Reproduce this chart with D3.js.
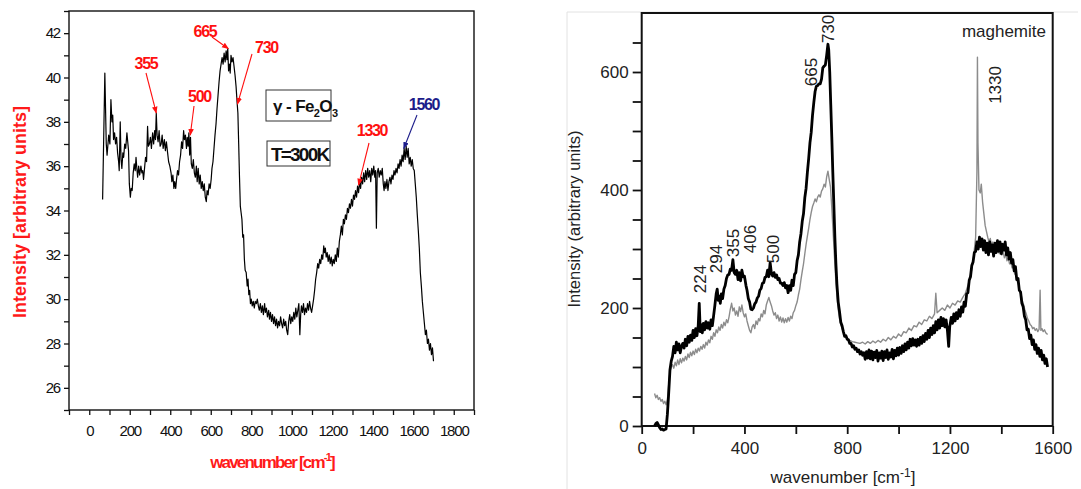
<!DOCTYPE html>
<html><head><meta charset="utf-8">
<script src="https://cdn.jsdelivr.net/npm/d3@7"></script>
<style>
body{margin:0;background:#fff;}
svg{display:block;font-family:"Liberation Sans",Arial,sans-serif;}
</style>
</head><body>
<svg id="c" width="1081" height="489"></svg>
<script>
// ---------- DATA ----------
// Left panel: gamma-Fe2O3, T=300K  [wavenumber, intensity]
const leftSpectrum = [[66,34.5],[77,40.2],[84,37.0],[88,36.5],[96,37.4],[102,37.0],[107,39.0],[112,38.0],[116,38.3],[120,37.2],[125,37.5],[130,37.0],[135,37.3],[140,36.6],[145,36.2],[148,35.8],[153,38.0],[157,36.3],[161,35.9],[166,36.6],[170,36.4],[175,37.0],[180,36.8],[186,37.5],[190,37.1],[194,36.7],[198,35.2],[203,34.6],[207,35.0],[212,34.9],[217,35.7],[222,36.1],[227,35.8],[231,36.4],[235,35.9],[239,35.5],[244,36.0],[249,35.6],[255,36.0],[260,35.7],[264,35.8],[268,35.4],[273,35.9],[278,36.4],[283,36.2],[288,37.8],[292,36.9],[297,37.0],[302,37.3],[307,36.8],[313,37.5],[318,37.0],[323,37.6],[327,37.2],[331,38.4],[335,37.4],[340,37.1],[345,37.6],[350,36.9],[355,37.0],[360,37.4],[365,36.8],[371,37.2],[376,36.7],[381,37.1],[387,36.6],[392,36.2],[398,36.0],[404,35.7],[408,35.3],[413,35.6],[418,35.0],[422,35.3],[427,35.0],[431,35.4],[436,35.8],[441,35.6],[446,36.2],[451,36.5],[456,37.1],[461,36.8],[466,37.6],[470,37.2],[475,37.4],[480,36.8],[484,37.3],[488,36.9],[492,37.5],[496,36.5],[500,37.3],[504,36.1],[509,35.9],[514,36.3],[519,35.7],[524,35.5],[529,36.0],[533,35.3],[538,35.9],[543,35.2],[548,35.6],[553,35.0],[558,35.3],[563,34.9],[568,35.2],[573,34.6],[578,34.4],[582,34.9],[587,34.7],[592,35.2],[597,35.0],[602,35.4],[606,35.9],[611,36.2],[616,36.8],[621,37.4],[626,37.9],[631,38.6],[636,39.2],[641,39.8],[646,40.3],[651,40.6],[656,40.9],[661,40.6],[666,41.1],[671,40.7],[676,41.2],[680,40.8],[684,41.3],[688,40.3],[692,40.6],[696,40.2],[700,41.0],[705,40.7],[710,40.9],[715,40.5],[720,40.1],[725,39.6],[730,38.9],[734,38.4],[738,37.0],[742,35.5],[746,34.2],[750,33.9],[754,33.6],[758,32.8],[762,32.9],[766,31.8],[770,31.3],[775,31.2],[780,30.6],[784,30.9],[788,30.2],[792,30.4],[796,29.8],[800,30.0],[805,29.7],[810,29.9],[815,29.6],[820,29.9],[825,29.8],[830,30.0],[835,29.7],[840,29.5],[845,29.8],[850,29.4],[855,29.7],[860,29.3],[866,29.8],[870,29.4],[875,29.6],[880,29.2],[886,29.5],[890,29.1],[895,29.4],[900,29.0],[905,29.3],[910,28.9],[915,29.2],[920,28.8],[925,29.1],[930,28.7],[935,29.0],[940,28.8],[945,29.2],[950,28.9],[955,28.7],[960,29.1],[965,28.8],[970,29.0],[975,28.6],[980,28.4],[985,29.0],[990,29.3],[995,28.9],[1000,29.2],[1005,29.0],[1010,29.4],[1015,29.1],[1020,29.6],[1025,29.2],[1030,29.5],[1035,29.8],[1040,28.4],[1044,29.3],[1048,29.7],[1053,29.4],[1058,29.8],[1063,29.3],[1068,29.6],[1073,29.4],[1078,29.8],[1083,29.5],[1088,29.9],[1093,29.6],[1098,29.4],[1103,29.7],[1108,30.0],[1113,30.4],[1118,30.9],[1123,31.2],[1128,31.6],[1133,31.4],[1138,31.8],[1143,31.6],[1148,32.0],[1153,31.8],[1158,32.4],[1162,32.1],[1166,32.3],[1170,31.9],[1175,32.1],[1180,31.7],[1185,32.0],[1190,31.6],[1195,31.9],[1200,31.5],[1205,31.8],[1210,31.6],[1215,32.0],[1220,31.7],[1225,32.3],[1230,31.9],[1235,32.6],[1240,32.9],[1245,33.3],[1250,32.9],[1255,33.6],[1260,33.4],[1265,33.8],[1270,33.6],[1275,34.1],[1280,33.9],[1285,34.3],[1290,34.1],[1295,34.5],[1300,34.2],[1305,34.7],[1310,34.5],[1315,34.9],[1320,34.6],[1325,35.1],[1330,34.8],[1335,35.3],[1340,35.0],[1345,35.5],[1350,35.2],[1355,35.7],[1360,35.3],[1365,35.8],[1370,35.4],[1375,35.9],[1380,35.5],[1385,35.8],[1390,35.3],[1395,35.9],[1400,35.6],[1405,36.0],[1410,35.5],[1414,35.8],[1418,33.2],[1422,35.7],[1427,35.9],[1432,35.5],[1437,35.8],[1442,35.6],[1447,35.9],[1452,35.2],[1456,34.9],[1460,35.3],[1465,35.0],[1470,35.4],[1475,34.9],[1480,35.3],[1485,35.5],[1490,35.2],[1495,35.6],[1500,35.4],[1505,35.8],[1510,35.6],[1515,35.9],[1520,35.7],[1525,36.1],[1530,35.9],[1535,36.3],[1540,36.0],[1545,36.5],[1550,36.2],[1555,36.8],[1560,36.3],[1565,36.9],[1570,36.4],[1575,36.8],[1580,36.1],[1585,36.4],[1590,36.0],[1595,36.3],[1600,35.9],[1605,35.8],[1610,35.2],[1615,34.6],[1620,33.8],[1625,33.1],[1630,32.3],[1635,31.2],[1640,30.6],[1645,29.9],[1650,29.4],[1655,28.9],[1660,28.4],[1665,28.6],[1670,28.0],[1675,28.2],[1680,27.7],[1685,28.0],[1690,27.5],[1695,27.8],[1700,27.2]];

// Right panel: maghemite, black (thick) spectrum [wavenumber, intensity]
const rightBlack = [[50,0],[55,4],[60,6],[65,2],[70,-3],[75,-6],[80,-5],[85,-7],[90,-6],[95,-5],[100,20],[105,55],[110,95],[115,110],[120,118],[125,135],[130,124],[135,142],[140,129],[145,139],[150,124],[155,135],[160,140],[165,132],[170,147],[175,136],[180,152],[185,142],[190,154],[195,145],[200,162],[205,150],[210,165],[215,153],[220,170],[224,208],[228,160],[232,172],[236,158],[240,174],[245,163],[250,177],[255,166],[260,175],[265,164],[270,180],[275,170],[280,187],[285,205],[290,224],[294,232],[298,213],[302,220],[306,208],[310,224],[315,216],[320,232],[325,238],[330,250],[335,256],[340,257],[345,266],[350,264],[355,282],[360,260],[365,257],[370,264],[375,248],[380,260],[385,246],[390,264],[395,253],[400,254],[406,238],[410,230],[415,216],[420,210],[425,198],[430,197],[435,200],[440,207],[445,210],[450,217],[455,220],[460,230],[465,233],[470,242],[475,243],[480,252],[485,253],[490,264],[495,253],[500,277],[505,258],[510,254],[515,260],[520,252],[525,256],[530,248],[535,250],[540,242],[545,242],[550,238],[555,243],[560,234],[565,238],[570,226],[575,238],[580,230],[585,247],[590,238],[595,257],[600,260],[605,280],[610,290],[615,312],[620,326],[625,347],[630,360],[635,387],[640,403],[645,430],[650,453],[655,480],[660,498],[665,527],[670,548],[675,567],[680,576],[685,577],[690,580],[695,580],[700,588],[705,607],[710,610],[715,612],[720,628],[725,647],[728,638],[732,600],[736,545],[740,490],[744,430],[748,375],[752,320],[756,275],[760,240],[765,210],[770,194],[775,176],[780,170],[785,160],[790,152],[795,153],[800,147],[805,146],[810,140],[815,140],[820,134],[825,136],[830,130],[835,132],[840,126],[845,129],[850,122],[855,126],[860,120],[865,124],[870,113],[875,126],[880,115],[885,129],[890,114],[895,127],[900,112],[905,125],[910,116],[915,128],[920,110],[925,124],[930,115],[935,127],[940,111],[945,126],[950,116],[955,129],[960,113],[965,124],[970,117],[975,130],[980,114],[985,128],[990,119],[995,132],[1000,120],[1005,133],[1010,123],[1015,136],[1020,126],[1025,139],[1030,129],[1035,142],[1040,132],[1045,147],[1050,136],[1055,148],[1060,137],[1065,146],[1070,135],[1075,147],[1080,137],[1085,150],[1090,140],[1095,153],[1100,143],[1105,157],[1110,147],[1115,162],[1120,150],[1125,166],[1130,155],[1135,170],[1140,158],[1145,177],[1150,163],[1155,180],[1160,166],[1165,184],[1170,170],[1175,182],[1180,168],[1185,180],[1190,163],[1195,135],[1199,168],[1205,184],[1210,174],[1215,190],[1220,178],[1225,192],[1230,182],[1235,197],[1240,186],[1245,202],[1250,193],[1255,210],[1260,203],[1265,224],[1270,226],[1275,247],[1280,253],[1285,272],[1290,278],[1295,294],[1300,296],[1305,312],[1310,300],[1315,320],[1320,304],[1325,317],[1330,298],[1335,314],[1340,294],[1345,310],[1350,290],[1355,312],[1360,296],[1365,307],[1370,288],[1375,310],[1380,294],[1385,314],[1390,296],[1395,312],[1400,292],[1405,308],[1410,298],[1415,312],[1420,290],[1425,302],[1430,283],[1435,294],[1440,276],[1445,282],[1450,263],[1455,270],[1460,248],[1465,250],[1470,230],[1475,227],[1480,208],[1485,202],[1490,186],[1495,180],[1500,163],[1505,164],[1510,148],[1515,154],[1520,138],[1525,146],[1530,130],[1535,138],[1540,123],[1545,132],[1550,118],[1555,128],[1560,112],[1565,120],[1570,106],[1575,114],[1580,100]];

// Right panel: maghemite, gray (thin) spectrum
const rightGray = [[50,55],[55,48],[60,52],[65,45],[70,48],[75,42],[80,45],[85,38],[90,42],[95,36],[100,44],[105,70],[110,92],[115,100],[120,104],[125,98],[130,108],[135,102],[140,112],[145,104],[150,114],[155,107],[160,115],[165,110],[170,118],[175,112],[180,122],[185,116],[190,125],[195,119],[200,127],[205,121],[210,130],[215,124],[220,132],[225,127],[230,135],[235,130],[240,138],[245,132],[250,142],[255,137],[260,146],[265,141],[270,152],[275,147],[280,158],[285,152],[290,163],[295,158],[300,168],[305,162],[310,172],[315,166],[320,176],[325,170],[330,180],[335,175],[340,185],[345,198],[350,208],[355,195],[360,200],[365,188],[370,195],[375,186],[380,202],[385,194],[390,205],[395,192],[400,185],[405,190],[410,178],[415,170],[420,162],[425,158],[430,168],[435,172],[440,165],[445,178],[450,172],[455,182],[460,178],[465,190],[470,185],[475,196],[480,190],[485,205],[490,212],[495,218],[500,210],[505,204],[510,195],[515,188],[520,192],[525,182],[530,188],[535,178],[540,185],[545,176],[550,183],[555,175],[560,182],[565,176],[570,184],[575,178],[580,186],[585,182],[590,192],[595,196],[600,204],[605,210],[610,222],[615,232],[620,248],[625,262],[630,275],[635,292],[640,308],[645,322],[650,335],[655,350],[660,362],[665,372],[670,378],[675,385],[680,380],[685,388],[690,392],[695,388],[700,398],[705,402],[710,410],[715,405],[720,422],[725,432],[730,418],[735,405],[740,370],[745,330],[750,290],[755,252],[760,220],[765,198],[770,182],[775,172],[780,165],[785,160],[790,155],[795,152],[800,148],[810,145],[820,143],[830,142],[840,141],[850,140],[860,142],[870,139],[880,143],[890,140],[900,144],[910,141],[920,145],[930,142],[940,147],[950,144],[960,150],[970,146],[980,152],[990,149],[1000,156],[1010,152],[1020,160],[1030,158],[1040,166],[1050,162],[1060,170],[1070,168],[1080,176],[1090,172],[1100,180],[1110,178],[1120,186],[1130,182],[1140,190],[1145,225],[1150,192],[1160,196],[1170,200],[1180,196],[1190,205],[1200,200],[1210,208],[1220,205],[1230,212],[1240,210],[1250,218],[1260,225],[1270,238],[1280,255],[1290,278],[1300,320],[1305,430],[1307,625],[1309,480],[1313,400],[1318,395],[1322,410],[1327,380],[1332,360],[1337,340],[1342,330],[1347,320],[1352,312],[1357,318],[1362,305],[1367,312],[1372,300],[1377,308],[1382,296],[1387,304],[1392,292],[1397,300],[1402,290],[1407,296],[1412,285],[1417,292],[1422,280],[1427,285],[1432,275],[1437,278],[1442,268],[1447,270],[1452,258],[1457,255],[1462,245],[1467,240],[1472,228],[1477,222],[1482,212],[1487,205],[1492,196],[1497,190],[1502,182],[1507,178],[1512,172],[1517,170],[1522,165],[1527,167],[1532,162],[1537,165],[1542,160],[1547,164],[1551,230],[1554,162],[1558,165],[1563,160],[1568,163],[1573,158],[1580,155]];

// Tick values / labels
const leftXTickLabels = [0,200,400,600,800,1000,1200,1400,1600,1800];
const leftXMinorTicks = [-100,0,100,200,300,400,500,600,700,800,900,1000,1100,1200,1300,1400,1500,1600,1700,1800,1900];
const leftYTickLabels = [26,28,30,32,34,36,38,40,42];
const leftYMinorTicks = [25,26,27,28,29,30,31,32,33,34,35,36,37,38,39,40,41,42,43];
const rightXTickLabels = [0,400,800,1200,1600];
const rightXMinorTicks = [0,200,400,600,800,1000,1200,1400,1600];
const rightYTickLabels = [0,200,400,600];
const rightYMinorTicks = [0,50,100,150,200,250,300,350,400,450,500,550,600,650];

// Peak annotations
const leftPeakLabels = ["355","500","665","730","1330","1560"];
const leftPeakWn     = [331,499,687,732,1330,1553];
const leftPeakI      = [38.4,37.4,41.3,38.8,35.15,36.8];
const leftPeakColors = ["#ff1010","#ff1010","#ff1010","#ff1010","#ff1010","#1c1c8a"];
const rightPeakLabels = ["224","294","355","406","500","665","730","1330"];
const rightPeakWn     = [227,290,356,422,512,660,726,1377];
const rightPeakI      = [225,259,286,293,276,576,649,546];

// ---------- LAYOUT ----------
const L = {x0:69, x1:474, y0:11, y1:410};
const R = {x0:641.7, x1:1052.7, y0:13, y1:426};
// label centre and arrow tail (pixels) for left annotations
const leftAnnLayout = [
  {lx:146, ly:63, tx:146, ty:73},
  {lx:199.5, ly:96, tx:194, ty:106},
  {lx:205, ly:31, tx:212, ty:37},
  {lx:266.5, ly:47, tx:252, ty:54},
  {lx:372, ly:130, tx:369, ty:143},
  {lx:424, ly:104, tx:417, ty:115}
];
const fmt = d3.format("d");

const svg = d3.select("#c");
const defs = svg.append("defs");
function marker(id, color){
  defs.append("marker").attr("id",id).attr("viewBox","0 0 10 10").attr("refX",9).attr("refY",5)
    .attr("markerWidth",7).attr("markerHeight",7).attr("markerUnits","userSpaceOnUse").attr("orient","auto")
    .append("path").attr("d","M0,1 L10,5 L0,9 Z").attr("fill",color);
}

// ================= LEFT PANEL =================
const xL = d3.scaleLinear().domain([-100,1900]).range([L.x0,L.x1]);
const yL = d3.scaleLinear().domain([25,43]).range([L.y1,L.y0]);

const gxL = svg.append("g").attr("transform",`translate(0,${L.y1})`)
  .call(d3.axisBottom(xL).tickValues(leftXMinorTicks).tickSize(5).tickFormat(""));
gxL.select(".domain").remove();
gxL.selectAll("line").attr("stroke","#111").attr("stroke-width",1.3);
const gxLl = svg.append("g").attr("transform",`translate(0,${L.y1})`)
  .call(d3.axisBottom(xL).tickValues(leftXTickLabels).tickSize(0).tickPadding(15).tickFormat(fmt));
gxLl.select(".domain").remove();
gxLl.selectAll("text").attr("font-size",15).attr("fill","#111").attr("letter-spacing","-1.2")
  .attr("font-family","'Liberation Sans',Arial,sans-serif");

const gyL = svg.append("g").attr("transform",`translate(${L.x0},0)`)
  .call(d3.axisLeft(yL).tickValues(leftYMinorTicks).tickSize(5).tickFormat(""));
gyL.select(".domain").remove();
gyL.selectAll("line").attr("stroke","#111").attr("stroke-width",1.3);
const gyLl = svg.append("g").attr("transform",`translate(${L.x0},0)`)
  .call(d3.axisLeft(yL).tickValues(leftYTickLabels).tickSize(0).tickPadding(9).tickFormat(fmt));
gyLl.select(".domain").remove();
gyLl.selectAll("text").attr("font-size",15).attr("fill","#111").attr("letter-spacing","-1.2")
  .attr("font-family","'Liberation Sans',Arial,sans-serif");

svg.append("rect").attr("x",L.x0).attr("y",L.y0).attr("width",L.x1-L.x0).attr("height",L.y1-L.y0)
  .attr("fill","none").attr("stroke","#111").attr("stroke-width",1.4);

svg.append("path").datum(leftSpectrum)
  .attr("d", d3.line().x(d=>xL(d[0])).y(d=>yL(d[1])))
  .attr("fill","none").attr("stroke","#000").attr("stroke-width",1.2).attr("stroke-linejoin","round");

// axis titles
const xtL = svg.append("text").attr("x",272).attr("y",468).attr("text-anchor","middle")
  .attr("font-size",17).attr("font-weight","bold").attr("fill","#ff1a1a").attr("letter-spacing","-1.8");
xtL.append("tspan").text("wavenumber [cm");
xtL.append("tspan").attr("dy",-7).attr("font-size",11).text("-1");
xtL.append("tspan").attr("dy",7).attr("font-size",17).text("]");
svg.append("text").attr("transform","translate(26,212) rotate(-90)").attr("text-anchor","middle")
  .attr("font-size",18).attr("font-weight","bold").attr("fill","#ff1a1a")
  .text("Intensity [arbitrary units]");

// annotations
leftPeakLabels.forEach((lab,i)=>{
  const c = leftPeakColors[i];
  const id = "arr"+i;
  marker(id,c);
  const a = leftAnnLayout[i];
  svg.append("line").attr("x1",a.tx).attr("y1",a.ty).attr("x2",xL(leftPeakWn[i])).attr("y2",yL(leftPeakI[i]))
    .attr("stroke",c).attr("stroke-width",1.1).attr("marker-end",`url(#${id})`);
  svg.append("text").attr("x",a.lx).attr("y",a.ly).attr("text-anchor","middle").attr("dominant-baseline","central")
    .attr("font-size",16).attr("font-weight","bold").attr("fill",c).attr("letter-spacing","-1.3").text(lab);
});

// boxes
svg.append("rect").attr("x",266).attr("y",90).attr("width",65).attr("height",31)
  .attr("fill","#fff").attr("stroke","#333").attr("stroke-width",1);
const t1 = svg.append("text").attr("x",273).attr("y",112).attr("font-size",17).attr("font-weight","bold")
  .attr("fill","#111").attr("letter-spacing","-0.6");
t1.append("tspan").text("γ - Fe");
t1.append("tspan").attr("dy",5).attr("font-size",11).text("2");
t1.append("tspan").attr("dy",-5).attr("font-size",17).text("O");
t1.append("tspan").attr("dy",5).attr("font-size",11).text("3");
svg.append("rect").attr("x",267).attr("y",141).attr("width",63).attr("height",25)
  .attr("fill","#fff").attr("stroke","#333").attr("stroke-width",1);
svg.append("text").attr("x",271).attr("y",161).attr("font-size",19).attr("font-weight","bold")
  .attr("fill","#111").attr("letter-spacing","-1.8").text("T=300K");

// ================= RIGHT PANEL =================
svg.append("path").attr("d","M567,489 L567,12 L1078,12").attr("fill","none").attr("stroke","#e2e2e2").attr("stroke-width",1);

const xR = d3.scaleLinear().domain([0,1600]).range([R.x0,R.x1]);
const yR = d3.scaleLinear().domain([0,700]).range([R.y1,R.y0]);

const gxR = svg.append("g").attr("transform",`translate(0,${R.y1})`)
  .call(d3.axisBottom(xR).tickValues(rightXMinorTicks).tickSize(8).tickFormat(""));
gxR.select(".domain").remove();
gxR.selectAll("line").attr("stroke","#111").attr("stroke-width",1.8);
const gxRl = svg.append("g").attr("transform",`translate(0,${R.y1})`)
  .call(d3.axisBottom(xR).tickValues(rightXTickLabels).tickSize(0).tickPadding(16).tickFormat(fmt));
gxRl.select(".domain").remove();
gxRl.selectAll("text").attr("font-size",17).attr("fill","#222").attr("font-family","'Liberation Sans',Arial,sans-serif");

const gyR = svg.append("g").attr("transform",`translate(${R.x0},0)`)
  .call(d3.axisLeft(yR).tickValues(rightYMinorTicks).tickSize(9).tickFormat(""));
gyR.select(".domain").remove();
gyR.selectAll("line").attr("stroke","#111").attr("stroke-width",1.8);
const gyRl = svg.append("g").attr("transform",`translate(${R.x0},0)`)
  .call(d3.axisLeft(yR).tickValues(rightYTickLabels).tickSize(0).tickPadding(13).tickFormat(fmt));
gyRl.select(".domain").remove();
gyRl.selectAll("text").attr("font-size",17).attr("fill","#222").attr("font-family","'Liberation Sans',Arial,sans-serif");

svg.append("rect").attr("x",R.x0).attr("y",R.y0).attr("width",R.x1-R.x0).attr("height",R.y1-R.y0)
  .attr("fill","none").attr("stroke","#111").attr("stroke-width",2);

const lineR = d3.line().x(d=>xR(d[0])).y(d=>yR(d[1]));
svg.append("path").datum(rightGray).attr("d",lineR)
  .attr("fill","none").attr("stroke","#8c8c8c").attr("stroke-width",1.4).attr("stroke-linejoin","round");
svg.append("path").datum(rightBlack).attr("d",lineR)
  .attr("fill","none").attr("stroke","#000").attr("stroke-width",2.8).attr("stroke-linejoin","round");

rightPeakLabels.forEach((lab,i)=>{
  svg.append("text").attr("transform",`translate(${xR(rightPeakWn[i])},${yR(rightPeakI[i])}) rotate(-90)`)
    .attr("dominant-baseline","central").attr("font-size",17).attr("fill","#222").text(lab);
});

svg.append("text").attr("x",1046).attr("y",37).attr("text-anchor","end")
  .attr("font-size",17).attr("fill","#222").text("maghemite");

const xt = svg.append("text").attr("x",843).attr("y",483).attr("text-anchor","middle")
  .attr("font-size",17).attr("fill","#222");
xt.append("tspan").text("wavenumber [cm");
xt.append("tspan").attr("dy",-6).attr("font-size",12).text("-1");
xt.append("tspan").attr("dy",6).attr("font-size",17).text("]");

svg.append("text").attr("transform","translate(574,219) rotate(-90)").attr("text-anchor","middle")
  .attr("dominant-baseline","central").attr("font-size",16.5).attr("fill","#222")
  .text("Intensity (arbitrary units)");
</script>
</body></html>
